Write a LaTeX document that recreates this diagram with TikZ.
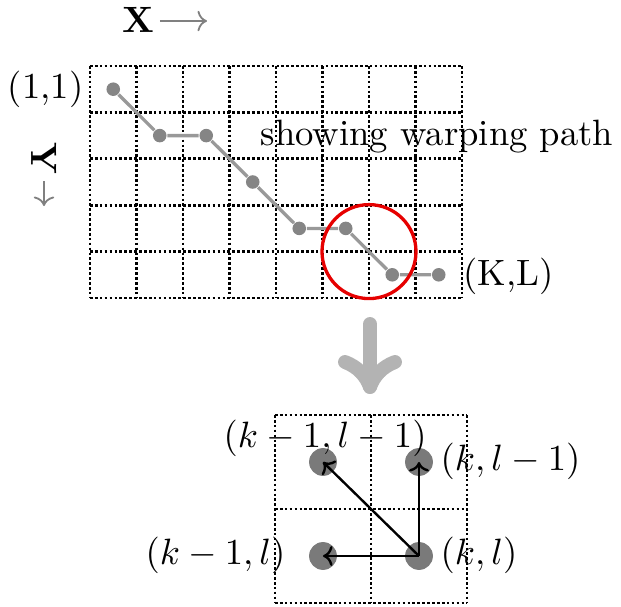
\documentclass[tikz,border=0pt]{standalone}
\usetikzlibrary{arrows.meta}
\definecolor{pathgray}{HTML}{999999}
\definecolor{dotgray}{HTML}{858585}
\definecolor{bigdotgray}{HTML}{7A7A7A}
\definecolor{biggray}{HTML}{B3B3B3}
\definecolor{circred}{HTML}{E60000}
\begin{document}
\begin{tikzpicture}[x=0.273pt,y=-0.273pt,
  gridline/.style={line width=0.8pt, dash pattern=on 0.72pt off 0.62pt},
  tdot/.style={circle, fill=dotgray, inner sep=0pt, minimum size=3.7pt},
  bdot/.style={circle, fill=bigdotgray, inner sep=0pt, minimum size=7.6pt},
  pathline/.style={pathgray, line width=0.9pt},
  lbl/.style={inner sep=0pt},
  axisarrow/.style={gray, line width=0.5pt, -{To[length=2.6pt,width=5.6pt]}},
  move/.style={line width=0.65pt, -{To[length=2.6pt,width=5.4pt]}},
  bigarrow/.style={biggray, line width=3.8pt, line cap=round, line join=round},
]
\useasboundingbox (0,0) rectangle (621,607);
% ---- top grid
\foreach \i in {0,...,8} \draw[gridline] ({90+46.5*\i},66) -- ({90+46.5*\i},298);
\foreach \j in {0,...,5} \draw[gridline] (90,{66+46.4*\j}) -- (462,{66+46.4*\j});
% ---- warping path
\foreach \n/\c/\r in {1/1/1,2/2/2,3/3/2,4/4/3,5/5/4,6/6/4,7/7/5,8/8/5}
  \node[tdot] (p\n) at ({113.25+46.5*(\c-1)},{89.2+46.4*(\r-1)}) {};
\draw[pathline] (p1) -- (p2) -- (p3) -- (p4) -- (p5) -- (p6) -- (p7) -- (p8);
% ---- red circle
\coordinate (cc) at (369,251.6);
\draw[circred, line width=0.9pt] (cc) circle[radius=12.83pt];
% ---- labels top
\node[lbl, anchor=base east] (s11) at (84,98) {(1,1)};
\node[lbl, anchor=base west] (swp) at (260,145) {showing warping path};
\node[lbl, anchor=base west] (skl) at (463,285) {(K,L)};
\node[lbl, anchor=base west] (xl) at (122,32) {\textbf{X}};
\coordinate (xa1) at (160,21);
\coordinate (xa2) at (207,21);
\draw[axisarrow] (xa1) -- (xa2);
\node[lbl, rotate=-90] (yl) at (44,158) {\textbf{Y}};
\coordinate (ya1) at (44,181);
\coordinate (ya2) at (44,206);
\draw[axisarrow] (ya1) -- (ya2);
% ---- big arrow
\coordinate (ba1) at (370,324);
\coordinate (ba2) at (370,387);
\coordinate (bw1) at (345,362);
\coordinate (bw2) at (395,362);
\draw[bigarrow] (ba1) -- (ba2);
\draw[bigarrow] (bw1) .. controls (358,367) and (366,376) .. (ba2) .. controls (374,376) and (382,367) .. (bw2);
% ---- bottom grid
\foreach \x in {275,371,467} \draw[gridline] (\x,415) -- (\x,603);
\foreach \y in {415,509,603} \draw[gridline] (275,\y) -- (467,\y);
\node[bdot] (a) at (323,462) {};
\node[bdot] (b) at (419,462) {};
\node[bdot] (c) at (323,556) {};
\node[bdot] (d) at (419,556) {};
\draw[move] (d.center) -- (a.center);
\draw[move] (d.center) -- (b.center);
\draw[move] (d.center) -- (c.center);
\node[lbl, anchor=base west] (la) at (223,448) {$(k-1,l-1)$};
\node[lbl, anchor=base west] (lb) at (440,470) {$(k,l-1)$};
\node[lbl, anchor=base east] (lc) at (286,565) {$(k-1,l)$};
\node[lbl, anchor=base west] (ld) at (440,565) {$(k,l)$};
\end{tikzpicture}
\end{document}
